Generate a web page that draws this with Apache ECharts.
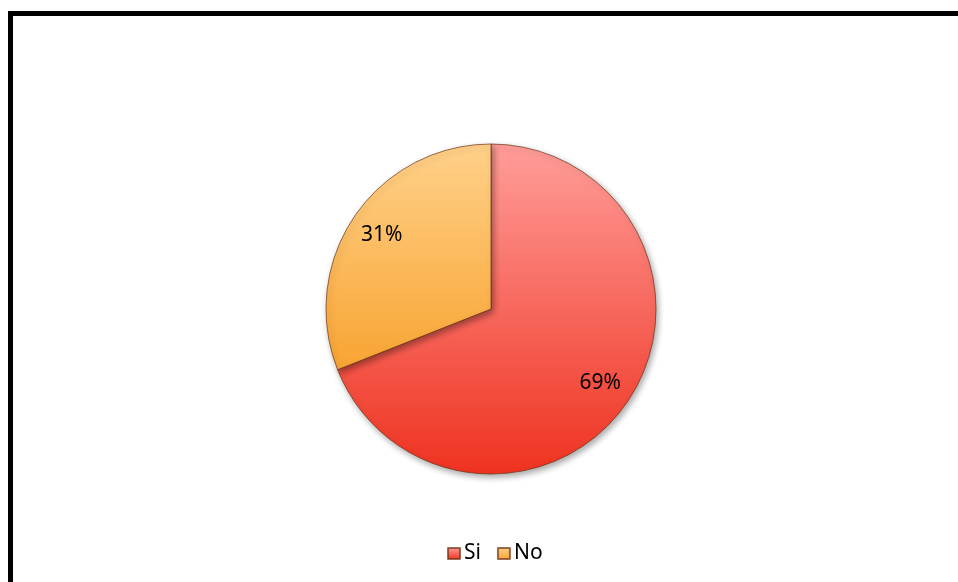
<!DOCTYPE html>
<html>
<head>
<meta charset="utf-8">
<script src="https://cdn.jsdelivr.net/npm/echarts@6/dist/echarts.min.js"></script>
<style>
  html, body { margin: 0; padding: 0; background: #ffffff; }
  #chart { width: 958px; height: 582px; }
</style>
</head>
<body>
<div id="chart"></div>
<script>
// Answers and their share of responses (percent)
const categories = ['Si', 'No'];
const values = [69, 31];

// Vertical shading per answer: [top, bottom]
const shades = [
  ['#ff9d99', '#ef3220'],
  ['#ffd18a', '#f8a432']
];

const FONT = '"Noto Sans", "DejaVu Sans", sans-serif';

function grad(pair) {
  return new echarts.graphic.LinearGradient(0, 0, 0, 1, [
    { offset: 0, color: pair[0] },
    { offset: 1, color: pair[1] }
  ]);
}

const pieData = categories.map((name, i) => ({
  name: name,
  value: values[i],
  itemStyle: { color: grad(shades[i]) }
}));

const chart = echarts.init(document.getElementById('chart'), null, { renderer: 'canvas' });

chart.setOption({
  backgroundColor: '#ffffff',
  animation: false,
  graphic: [{
    type: 'rect',
    silent: true,
    z: 100,
    shape: { x: 10.5, y: 13.5, width: 1000, height: 700 },
    style: { fill: 'none', stroke: '#000000', lineWidth: 5 }
  }],
  legend: {
    top: 538,
    left: 442,
    itemWidth: 12,
    itemHeight: 11,
    itemGap: 16,
    icon: 'rect',
    textStyle: { fontFamily: FONT, fontSize: 21, color: '#000000', padding: [0, 0, 0, -1] },
    data: categories
  },
  series: [
    {
      // filled slices
      type: 'pie',
      center: [491, 309],
      radius: [0, 165],
      startAngle: 90,
      clockwise: true,
      label: { show: false },
      labelLine: { show: false },
      itemStyle: {
        borderColor: 'rgba(110,50,20,0.7)',
        borderWidth: 1,
        shadowBlur: 6,
        shadowColor: 'rgba(0,0,0,0.35)',
        shadowOffsetX: 2,
        shadowOffsetY: 3
      },
      emphasis: { disabled: true },
      data: pieData
    },
    {
      // transparent ring that places percentage labels near the rim
      type: 'pie',
      center: [491, 309],
      radius: [93, 165],
      startAngle: 90,
      clockwise: true,
      silent: true,
      z: 3,
      itemStyle: { color: 'rgba(0,0,0,0)', borderWidth: 0 },
      label: {
        show: true,
        position: 'inside',
        formatter: '{c}%',
        fontFamily: FONT,
        fontSize: 21,
        color: '#000000'
      },
      labelLine: { show: false },
      emphasis: { disabled: true },
      data: categories.map((name, i) => ({ name: name, value: values[i] }))
    }
  ]
});
</script>
</body>
</html>
